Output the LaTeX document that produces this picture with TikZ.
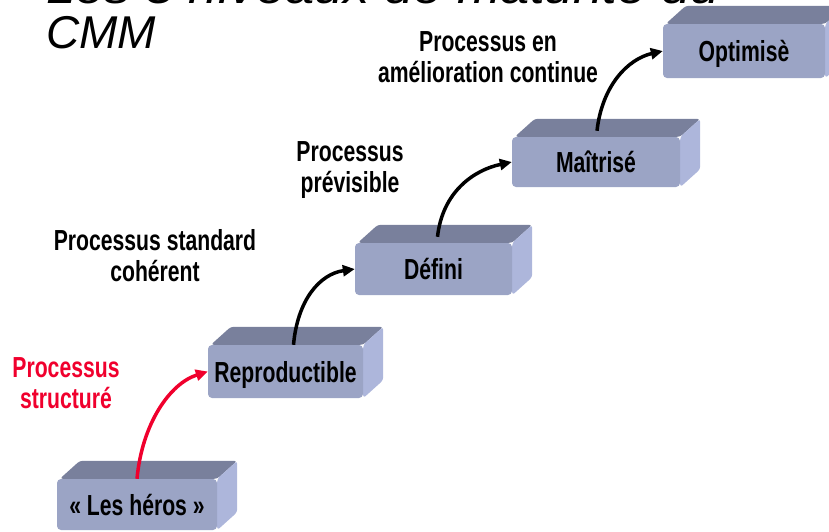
\documentclass[tikz,border=0pt]{standalone}
\usepackage{fontspec}
\usepackage{graphicx}
\setmainfont{Liberation Sans}
\newfontfamily\labfont{Liberation Sans}[FakeStretch=0.73]
\usetikzlibrary{arrows.meta,backgrounds}
\definecolor{boxfront}{RGB}{155,164,197}
\definecolor{boxtop}{RGB}{121,128,156}
\definecolor{boxside}{RGB}{173,182,219}
\definecolor{labred}{RGB}{240,0,45}
\newcommand\cmmfaces[1]{%
  \fill[boxtop, rounded corners=3pt] ([xshift=3pt]#1.north west) -- ([shift={(23,-18)}]#1.north west) -- ([shift={(20,-18)}]#1.north east) -- (#1.north east) -- cycle;
  \fill[boxside, rounded corners=3pt] (#1.north east) -- ([shift={(20,-18)}]#1.north east) -- ([shift={(20,-18)}]#1.south east) -- (#1.south east) -- cycle;}
\begin{document}
\begin{tikzpicture}[x=1pt,y=-1pt,
  front/.style={fill=boxfront, rounded corners=4pt, inner sep=0pt,
    font=\labfont\bfseries\fontsize{29}{31}\selectfont, text height=21pt, text depth=0pt},
  lab/.style={font=\labfont\bfseries\fontsize{29}{31}\selectfont, align=center, inner sep=0pt},
  titlestyle/.style={font=\itshape\fontsize{46}{41}\selectfont, inner sep=0pt, anchor=base west},
  conn/.style={line width=3.5pt, -{Triangle[length=12pt,width=11pt]}}]
\useasboundingbox (0,0) rectangle (829,531);
\node[titlestyle] (title1) at (46,3) {\scalebox{1.14}[1]{Les 5 niveaux de maturité du}};
\node[titlestyle] (title2) at (46,48) {CMM};
\node[front, minimum width=160pt, minimum height=51pt] (b1) at (137,504.5) {« Les héros »};
\node[front, minimum width=155pt, minimum height=53pt] (b2) at (285.5,371.5) {Reproductible};
\node[front, minimum width=157pt, minimum height=52pt] (b3) at (433.5,269) {Défini};
\node[front, minimum width=168pt, minimum height=50pt] (b4) at (596,162) {Maîtrisé};
\node[front, minimum width=162pt, minimum height=54pt] (b5) at (744,51) {Optimisè};
\begin{scope}[on background layer]
\cmmfaces{b1}\cmmfaces{b2}\cmmfaces{b3}\cmmfaces{b4}\cmmfaces{b5}
\end{scope}
\node[lab] (l5) at (488,57) {Processus en\\amélioration continue};
\node[lab] (l4) at (350,170.5) {Processus\\prévisible};
\node[lab] (l3) at (155,255.5) {Processus standard\\cohérent};
\node[lab, text=labred] (l2) at (66,383.5) {Processus\\structuré};
\draw[conn, labred] (b1.north) .. controls +(5,-55) and +(-38,12) .. (b2.west);
\draw[conn] ([xshift=8pt]b2.north) .. controls +(4,-45) and +(-35,5) .. (b3.west);
\draw[conn] ([shift={(4,-6)}]b3.north) .. controls +(5,-45) and +(-38,8) .. (b4.west);
\draw[conn] ([shift={(1,-6)}]b4.north) .. controls +(5,-45) and +(-35,8) .. (b5.west);
\end{tikzpicture}
\end{document}
